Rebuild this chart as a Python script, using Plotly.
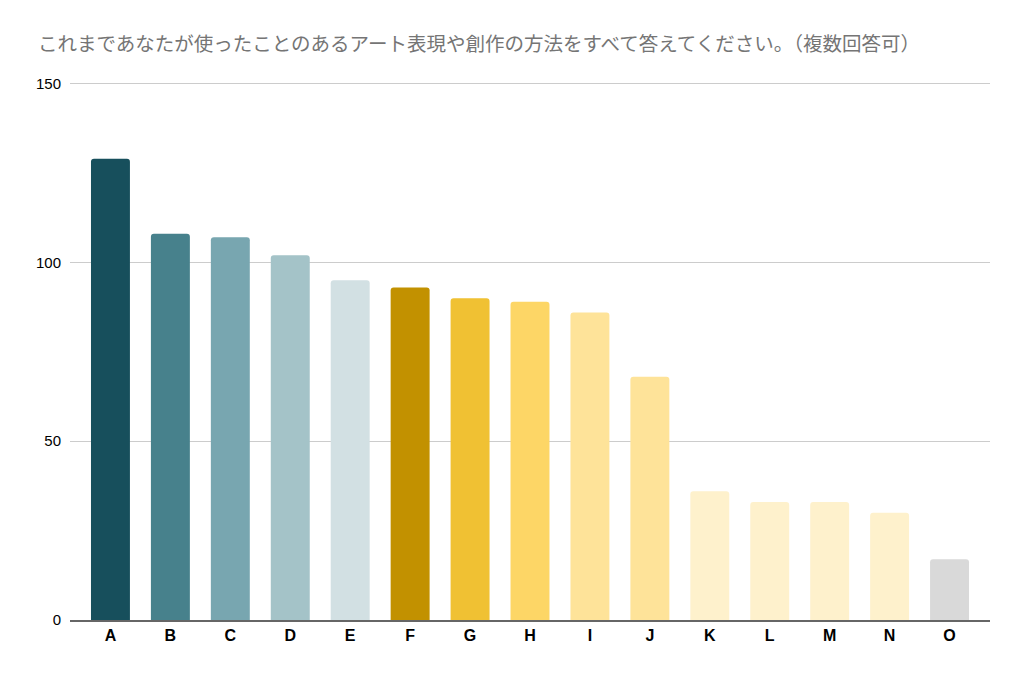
import plotly.graph_objects as go

categories = ["A", "B", "C", "D", "E", "F", "G", "H", "I", "J", "K", "L", "M", "N", "O"]
counts = [129, 108, 107, 102, 95, 93, 90, 89, 86, 68, 36, 33, 33, 30, 17]
bar_colors = ["#174f5c", "#47818c", "#78a6b0", "#a4c3c8", "#d2e0e3",
              "#c29100", "#f0c133", "#fdd666", "#fee399", "#fee399",
              "#fef1cc", "#fef1cc", "#fef1cc", "#fef1cc", "#d9d9d9"]
y_ticks = [0, 50, 100, 150]

title = "これまであなたが使ったことのあるアート表現や創作の方法をすべて答えてください。（複数回答可）"

fig = go.Figure(go.Bar(
    x=categories,
    y=counts,
    marker=dict(color=bar_colors, line=dict(width=0), cornerradius=3),
    hoverinfo="x+y",
))

# page body has an 8px margin, so the figure is a bit smaller than the window
fig.update_layout(
    width=1016, height=671,
    plot_bgcolor="white", paper_bgcolor="white",
    margin=dict(l=62, r=34, t=72, b=59),
    bargap=0.35,
    showlegend=False,
    title=dict(text=title, x=30 / 1016, xref="container", xanchor="left",
               y=1 - 36 / 671, yref="container", yanchor="middle",
               font=dict(family="Noto Sans CJK JP", size=19.5, color="#757575")),
    font=dict(family="Liberation Sans, Arial", size=15, color="#000000"),
)

fig.update_xaxes(
    range=[-0.675, 14.675],
    showgrid=False,
    showline=True, linecolor="#666666", linewidth=1.5,
    tickfont=dict(family="Liberation Sans, Arial", size=16, color="#000000", weight="bold"),
    ticks="",
)
# a little headroom so the 150 gridline is drawn
fig.update_yaxes(
    range=[0, 151],
    tickvals=y_ticks,
    showgrid=True, gridcolor="#cccccc", gridwidth=1,
    zeroline=False, showline=False,
    ticks="", ticklabelstandoff=8,
    tickfont=dict(family="Liberation Sans, Arial", size=15, color="#000000"),
)

fig.write_html("out.html")
